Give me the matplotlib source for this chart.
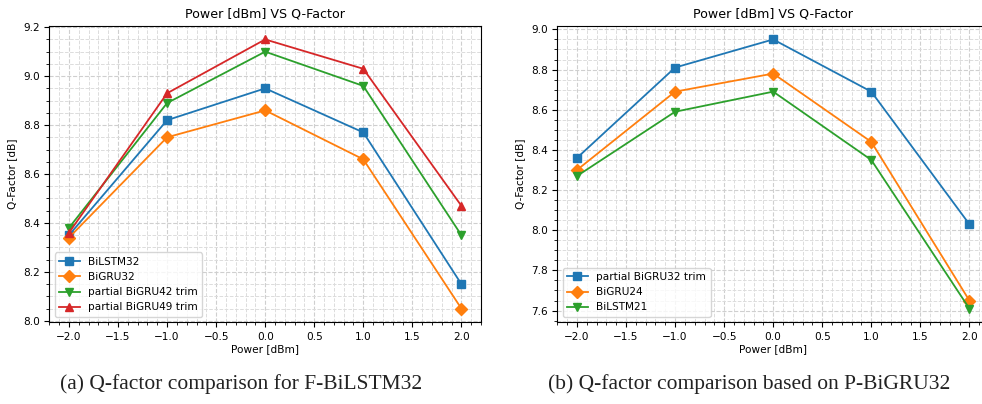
import matplotlib
matplotlib.use("Agg")
import matplotlib.pyplot as plt

power = [-2.0, -1.0, 0.0, 1.0, 2.0]

# Panel (a)
a_labels = ["BiLSTM32", "BiGRU32", "partial BiGRU42 trim", "partial BiGRU49 trim"]
a_bilstm32 = [8.35, 8.82, 8.95, 8.77, 8.15]
a_bigru32 = [8.34, 8.75, 8.86, 8.66, 8.05]
a_pbigru42 = [8.38, 8.89, 9.10, 8.96, 8.35]
a_pbigru49 = [8.36, 8.93, 9.15, 9.03, 8.47]

# Panel (b)
b_labels = ["partial BiGRU32 trim", "BiGRU24", "BiLSTM21"]
b_pbigru32 = [8.36, 8.81, 8.95, 8.69, 8.03]
b_bigru24 = [8.30, 8.69, 8.78, 8.44, 7.65]
b_bilstm21 = [8.27, 8.59, 8.69, 8.35, 7.61]

title = "Power [dBm] VS Q-Factor"
xlabel = "Power [dBm]"
ylabel = "Q-Factor [dB]"
cap_a = "(a) Q-factor comparison for F-BiLSTM32"
cap_b = "(b) Q-factor comparison based on P-BiGRU32"

colors = ["#1f77b4", "#ff7f0e", "#2ca02c", "#d62728"]
markers = ["s", "D", "v", "^"]

plt.rcParams["font.size"] = 7.6

fig = plt.figure(figsize=(9.82, 4.04), dpi=100)
ax1 = fig.add_axes([0.0503, 0.203, 0.4395, 0.7327])
ax2 = fig.add_axes([0.5676, 0.203, 0.4395, 0.7327])


def draw(ax, series, labels):
    for i, (ys, lab) in enumerate(zip(series, labels)):
        ax.plot(power, ys, color=colors[i], marker=markers[i], markersize=5.8,
                linewidth=1.3, label=lab)
    ax.minorticks_on()
    ax.grid(which="major", linestyle="--", color="#cfcfcf", linewidth=0.8)
    ax.grid(which="minor", linestyle="--", color="#dcdcdc", linewidth=0.7)
    ax.set_axisbelow(True)
    ax.set_title(title)
    ax.set_xlabel(xlabel, labelpad=2)
    ax.set_ylabel(ylabel)
    ax.legend(loc="lower left")


draw(ax1, [a_bilstm32, a_bigru32, a_pbigru42, a_pbigru49], a_labels)
draw(ax2, [b_pbigru32, b_bigru24, b_bilstm21], b_labels)

fig.text(241 / 982, 1 - 384 / 404, cap_a, family="Liberation Serif",
         fontsize=15.5, ha="center", va="center", color="#222222")
fig.text(749 / 982, 1 - 384 / 404, cap_b, family="Liberation Serif",
         fontsize=15.5, ha="center", va="center", color="#222222")

fig.savefig("out.png", dpi=100)
